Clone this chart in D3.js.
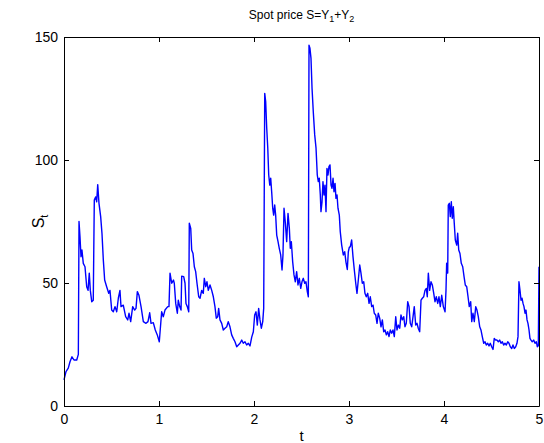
<!DOCTYPE html>
<html>
<head>
<meta charset="utf-8">
<script src="https://cdn.jsdelivr.net/npm/d3@7"></script>
<style>
  body { margin: 0; background: #fff; }
  text { font-family: "Liberation Sans", Arial, sans-serif; fill: #000; }
</style>
</head>
<body>
<svg id="chart" width="544" height="443"></svg>
<script>
// values
const tValues = [
  0, 0.021, 0.045, 0.063, 0.084, 0.105, 0.134, 0.151, 0.158, 0.168, 0.179, 0.189, 0.203, 0.221, 0.239, 0.253, 0.266, 0.277, 0.292, 0.308,
  0.319, 0.334, 0.344, 0.355, 0.368, 0.386, 0.400, 0.414, 0.428, 0.449, 0.471, 0.484, 0.502, 0.519, 0.537, 0.555, 0.572, 0.589, 0.600, 0.624,
  0.649, 0.671, 0.684, 0.702, 0.723, 0.744, 0.758, 0.772, 0.789, 0.811, 0.835, 0.863, 0.884, 0.902, 0.916, 0.940, 0.961, 0.982, 1.003,
  1.028, 1.045, 1.063, 1.092, 1.105, 1.116, 1.134, 1.152, 1.161, 1.176, 1.193, 1.203, 1.218, 1.232, 1.239, 1.260, 1.274, 1.284, 1.298, 1.313,
  1.319, 1.334, 1.344, 1.358, 1.372, 1.386, 1.400, 1.418, 1.432, 1.449, 1.466, 1.477, 1.492, 1.505, 1.519, 1.537, 1.555, 1.572, 1.589, 1.603,
  1.618, 1.628, 1.642, 1.660, 1.677, 1.695, 1.713, 1.729, 1.747, 1.765, 1.782, 1.800, 1.818, 1.835, 1.853, 1.871, 1.887, 1.905, 1.923, 1.940,
  1.958, 1.976, 1.993, 2.007, 2.021, 2.035, 2.049, 2.063, 2.077, 2.092, 2.102, 2.113, 2.123, 2.134, 2.145, 2.155, 2.166, 2.176, 2.186, 2.197,
  2.207, 2.218, 2.228, 2.239, 2.253, 2.266, 2.281, 2.295, 2.305, 2.316, 2.329, 2.344, 2.358, 2.372, 2.382, 2.393, 2.407, 2.421, 2.435, 2.449,
  2.463, 2.477, 2.492, 2.505, 2.519, 2.534, 2.547, 2.561, 2.572, 2.579, 2.589, 2.600, 2.611, 2.624, 2.639, 2.653, 2.666, 2.677, 2.687, 2.698,
  2.705, 2.716, 2.726, 2.737, 2.747, 2.758, 2.768, 2.779, 2.789, 2.800, 2.811, 2.821, 2.832, 2.842, 2.853, 2.863, 2.874, 2.884, 2.898, 2.908,
  2.923, 2.940, 2.955, 2.968, 2.982, 2.993, 3.003, 3.014, 3.028, 3.042, 3.056, 3.071, 3.084, 3.098, 3.113, 3.126, 3.140, 3.155, 3.168, 3.182,
  3.197, 3.211, 3.224, 3.239, 3.253, 3.266, 3.281, 3.295, 3.308, 3.323, 3.337, 3.351, 3.365, 3.379, 3.393, 3.407, 3.421, 3.435, 3.449, 3.463,
  3.477, 3.492, 3.505, 3.519, 3.534, 3.547, 3.561, 3.576, 3.589, 3.603, 3.618, 3.632, 3.645, 3.660, 3.674, 3.687, 3.702, 3.716, 3.729, 3.744,
  3.758, 3.772, 3.786, 3.800, 3.814, 3.824, 3.835, 3.849, 3.863, 3.877, 3.892, 3.905, 3.919, 3.934, 3.947, 3.961, 3.976, 3.993, 4.011, 4.021,
  4.028, 4.039, 4.045, 4.056, 4.066, 4.077, 4.087, 4.098, 4.108, 4.119, 4.134, 4.144, 4.155, 4.168, 4.182, 4.197, 4.211, 4.224, 4.239, 4.253,
  4.266, 4.281, 4.292, 4.305, 4.319, 4.334, 4.347, 4.361, 4.376, 4.389, 4.403, 4.418, 4.432, 4.445, 4.460, 4.474, 4.487, 4.502, 4.516, 4.529,
  4.544, 4.558, 4.572, 4.586, 4.600, 4.614, 4.628, 4.642, 4.656, 4.671, 4.684, 4.698, 4.713, 4.726, 4.740, 4.755, 4.768, 4.779, 4.789, 4.800,
  4.811, 4.821, 4.832, 4.842, 4.853, 4.863, 4.874, 4.884, 4.895, 4.905, 4.916, 4.929, 4.944, 4.958, 4.972, 4.982, 4.993, 5.000
]
const sValues = [
  10.6, 14, 15.4, 18, 20, 18.7, 18.7, 21, 75, 69, 60.7, 63.4, 58, 56.6, 48.5, 47, 54, 47, 42.4, 43,
  83.7, 85, 83, 90, 82.5, 77, 70, 59.3, 51.2, 48.5, 45.8, 47, 39, 38.3, 40.4, 38.3, 43.8, 47, 40.4, 41,
  36.3, 35, 37.7, 34.3, 40.4, 39, 39.7, 46.5, 45, 40.4, 34.3, 33.6, 34.3, 37.9, 33.6, 33.9, 30.9, 28.9, 26.1,
  38.3, 36.3, 39, 40.4, 40.4, 54, 49.9, 51.2, 49.9, 41.7, 37.7, 43, 40.4, 39, 52.8, 52.6, 49.9, 41.7, 40.4, 38.3,
  74.3, 72.2, 63.4, 62, 56.6, 54.6, 49.9, 44.4, 43.8, 47, 45.8, 51.9, 48.5, 50.5, 47, 49.2, 47, 44.4, 40.4, 35.7,
  36.3, 39.7, 35, 33.6, 30.9, 31.6, 32.2, 34.3, 32.2, 28.9, 27.5, 26.1, 24.1, 24.8, 25.5, 26.8, 25.5, 26.1, 24.8, 25.5,
  24.4, 28, 30.2, 37, 38.3, 32.9, 39.7, 35, 31.6, 34.3, 39.7, 127.1, 123.7, 112.9, 104.8, 93.9, 89.8, 92.6, 87.1, 80.4,
  77.6, 81.7, 77.6, 69.5, 66.8, 64.1, 61.4, 55.3, 61.4, 80.4, 74.9, 66.8, 78.3, 72.2, 64.1, 66.8, 58.7, 53.3, 50.5, 54.6,
  49.2, 51.9, 47.8, 50.5, 51.9, 49.9, 50.5, 46.5, 44.4, 146.7, 145.4, 141.3, 129.1, 119.6, 110.2, 104.8, 93.9, 91.2, 92.6, 85.8,
  79, 83, 91.2, 85.8, 89.8, 79, 96.6, 93.9, 97.3, 98, 89.8, 88.5, 92.6, 87.1, 90.5, 84.4, 85.8, 80.4, 77.6, 70.9,
  65.4, 61.4, 62.7, 58.5, 55.5, 62.7, 64.5, 64.8, 67.5, 60.7, 55.3, 49.9, 45.8, 51.2, 57.3, 54, 49.9, 50.5, 45.8, 44.4,
  45.8, 41.7, 44.4, 40.4, 41, 37.7, 37, 33.6, 37.7, 35.7, 32.2, 35, 30.2, 30.9, 28.9, 30.2, 28.2, 30.9, 29.6, 30.9,
  28.2, 36.3, 30.9, 32.9, 31.6, 37, 35, 36.3, 32.2, 33.6, 42.4, 40.4, 33.6, 32.2, 36.3, 40.4, 32.9, 33.6, 31.6, 30.2,
  43, 43.8, 44.4, 47, 47.8, 44.4, 54, 47, 50.5, 49.2, 45.8, 42.4, 44.4, 41.7, 44.4, 40.4, 45, 40.4, 38.3, 47,
  58, 54, 81.7, 82.4, 77, 83, 76.3, 81, 74.3, 67.5, 65.4, 70.2, 63.4, 62, 58, 56.6, 52.6, 49.2, 48.5, 44.4,
  40.4, 42.4, 34.3, 37.7, 34.3, 40.4, 39, 36.3, 32.2, 30.9, 28.2, 25.5, 26.1, 24.8, 25.5, 24.4, 25.5, 24.1, 23, 27.5,
  26.8, 26.8, 26.1, 26.8, 25.5, 26.1, 24.8, 25.5, 24.8, 26.1, 25.5, 24.1, 23.4, 24.8, 23.4, 24.1, 25.5, 28.2, 50.5, 47,
  43, 43.8, 41.7, 40.4, 37.7, 39, 35, 33.6, 30.9, 27.5, 26.8, 26.1, 26.8, 25.5, 26.1, 24.1, 24.5, 56.6
]
const xTicks = [0, 1, 2, 3, 4, 5]
const yTicks = [0, 50, 100, 150]

const series = tValues.map((t, i) => ({t: t, s: sValues[i]}))

const axLeft = 64, axRight = 539, axTop = 37, axBottom = 406
const svg = d3.select('#chart')

const x = d3.scaleLinear().domain([0, 5]).range([axLeft, axRight])
const y = d3.scaleLinear().domain([0, 150]).range([axBottom, axTop])

// the series
svg.append('path')
  .datum(series)
  .attr('fill', 'none')
  .attr('stroke', '#0000ff')
  .attr('stroke-width', 1.4)
  .attr('stroke-linejoin', 'round')
  .attr('d', d3.line().x(d => x(d.t)).y(d => y(d.s)))

// box with inward ticks like matlab
const tickLen = 5
const fmt = d3.format('d')
svg.append('g')
  .attr('transform', `translate(0,${axBottom})`)
  .call(d3.axisBottom(x).tickValues(xTicks).tickFormat(fmt).tickSizeInner(-tickLen).tickSizeOuter(0).tickPadding(8))
svg.append('g')
  .attr('transform', `translate(0,${axTop})`)
  .call(d3.axisTop(x).tickValues(xTicks).tickSizeInner(-tickLen).tickSizeOuter(0).tickFormat(''))
svg.append('g')
  .attr('transform', `translate(${axLeft},0)`)
  .call(d3.axisLeft(y).tickValues(yTicks).tickFormat(fmt).tickSizeInner(-tickLen).tickSizeOuter(0).tickPadding(6))
svg.append('g')
  .attr('transform', `translate(${axRight},0)`)
  .call(d3.axisRight(y).tickValues(yTicks).tickSizeInner(-tickLen).tickSizeOuter(0).tickFormat(''))

svg.selectAll('.domain').attr('stroke', '#000').attr('stroke-width', 1)
svg.selectAll('.tick line').attr('stroke', '#000')
svg.selectAll('.tick text')
  .style('font-family', '"Liberation Sans", Arial, sans-serif')
  .style('font-size', '14px')
  .attr('fill', '#000')

// title with subscripts
const title = svg.append('text')
  .attr('x', (axLeft + axRight) / 2)
  .attr('y', 19)
  .attr('text-anchor', 'middle')
  .style('font-size', '12px')
title.append('tspan').text('Spot price S=Y')
title.append('tspan').attr('dy', 3).style('font-size', '9px').text('1')
title.append('tspan').attr('dy', -3).text('+Y')
title.append('tspan').attr('dy', 3).style('font-size', '9px').text('2')

// axis labels
svg.append('text')
  .attr('x', (axLeft + axRight) / 2)
  .attr('y', 441)
  .attr('text-anchor', 'middle')
  .style('font-size', '15px')
  .text('t')

const ylab = svg.append('text')
  .attr('transform', `translate(44,${(axTop + axBottom) / 2}) rotate(-90)`)
  .attr('text-anchor', 'middle')
  .style('font-size', '16px')
ylab.append('tspan').text('S')
ylab.append('tspan').attr('dy', 4).style('font-size', '11px').text('t')
</script>
</body>
</html>
